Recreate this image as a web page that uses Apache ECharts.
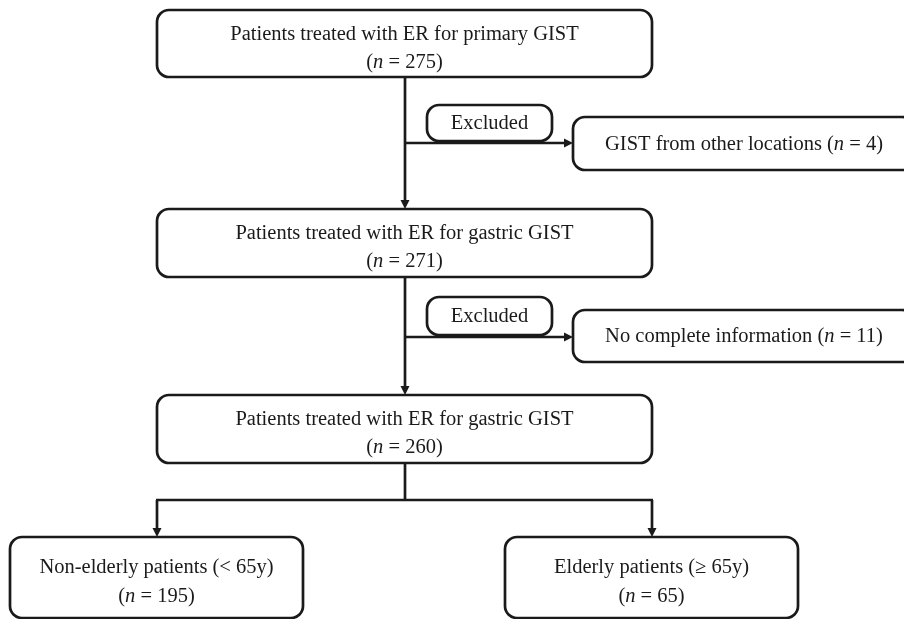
<!DOCTYPE html>
<html>
<head>
<meta charset="utf-8">
<script src="https://cdn.jsdelivr.net/npm/echarts@6/dist/echarts.min.js"></script>
<style>
html,body{margin:0;padding:0;background:#fff;}
#chart{width:904px;height:619px;}
</style>
</head>
<body>
<div id="chart"></div>
<script>
// ---- Data (content) ----
const stageTitles = ['Patients treated with ER for primary GIST', 'Patients treated with ER for gastric GIST', 'Patients treated with ER for gastric GIST'];
const stageCounts = [275, 271, 260];
const excludedLabel = 'Excluded';
const exclusionReasons = ['GIST from other locations', 'No complete information'];
const exclusionCounts = [4, 11];
const groupTitles = ['Non-elderly patients (< 65y)', 'Elderly patients (\u2265 65y)'];
const groupCounts = [195, 65];

// ---- Layout (positions in axis units, y downward) ----
const boxLayout = [
  { kind: 'stage', idx: 0, rect: [157, 10, 652, 77] },
  { kind: 'stage', idx: 1, rect: [157, 209, 652, 277] },
  { kind: 'stage', idx: 2, rect: [157, 395, 652, 463] },
  { kind: 'excl', idx: 0, rect: [427, 105, 552, 141] },
  { kind: 'reason', idx: 0, rect: [573, 117, 914, 170] },
  { kind: 'excl', idx: 1, rect: [427, 297, 552, 335] },
  { kind: 'reason', idx: 1, rect: [573, 310, 914, 362] },
  { kind: 'group', idx: 0, rect: [10, 537, 303, 618] },
  { kind: 'group', idx: 1, rect: [505, 537, 798, 618] }
];
const connectorLayout = [
  [405, 77, 405, 209, 1],
  [405, 277, 405, 395, 1],
  [405, 463, 405, 500, 0],
  [405, 143, 573, 143, 1],
  [405, 337, 573, 337, 1],
  [156, 500, 653, 500, 0],
  [157, 500, 157, 537, 1],
  [652, 500, 652, 537, 1]
];

const INK = '#1a1a1a';
const FONT = '"Liberation Serif", "DejaVu Serif", serif';
const FS = 20.5;

function textEl(str, x, y) {
  return {
    type: 'text',
    style: {
      text: str, x: x, y: y,
      fill: INK, fontFamily: FONT, fontSize: FS,
      align: 'center', verticalAlign: 'middle',
      rich: { i: { fontStyle: 'italic', fontFamily: FONT, fontSize: FS, fill: INK } }
    },
    z2: 10
  };
}
function nText(n) { return '({i|n} = ' + n + ')'; }

function boxLines(item) {
  if (item.kind === 'stage') return { lines: [stageTitles[item.idx], nText(stageCounts[item.idx])], offs: [25, 53] };
  if (item.kind === 'group') return { lines: [groupTitles[item.idx], nText(groupCounts[item.idx])], offs: [31, 60] };
  if (item.kind === 'excl') return { lines: [excludedLabel], offs: null };
  return { lines: [exclusionReasons[item.idx] + ' ({i|n} = ' + exclusionCounts[item.idx] + ')'], offs: null };
}

const boxData = boxLayout.map(b => ({ value: b.rect }));
const connData = connectorLayout.map(c => ({ value: c }));

const chart = echarts.init(document.getElementById('chart'), null, { renderer: 'canvas' });
chart.setOption({
  animation: false,
  backgroundColor: '#fff',
  grid: { left: 0, right: 0, top: 0, bottom: 0 },
  xAxis: { type: 'value', min: 0, max: 904, show: false },
  yAxis: { type: 'value', min: 0, max: 619, inverse: true, show: false },
  series: [
    {
      type: 'custom',
      clip: false,
      encode: { x: [0, 2], y: [1, 3] },
      data: connData,
      renderItem: function (params, api) {
        const p0 = api.coord([api.value(0), api.value(1)]);
        const p1 = api.coord([api.value(2), api.value(3)]);
        const arrow = api.value(4);
        const children = [];
        const dx = p1[0] - p0[0], dy = p1[1] - p0[1];
        const len = Math.sqrt(dx * dx + dy * dy) || 1;
        const ux = dx / len, uy = dy / len;
        const ah = 9, aw = 4.5;
        const endLine = arrow ? [p1[0] - ux * ah * 0.6, p1[1] - uy * ah * 0.6] : p1;
        children.push({
          type: 'line',
          shape: { x1: p0[0], y1: p0[1], x2: endLine[0], y2: endLine[1] },
          style: { stroke: INK, lineWidth: 2.7 }
        });
        if (arrow) {
          const bx = p1[0] - ux * ah, by = p1[1] - uy * ah;
          children.push({
            type: 'polygon',
            shape: { points: [[p1[0], p1[1]], [bx - uy * aw, by + ux * aw], [bx + uy * aw, by - ux * aw]] },
            style: { fill: INK }
          });
        }
        return { type: 'group', children: children };
      }
    },
    {
      type: 'custom',
      clip: false,
      encode: { x: [0, 2], y: [1, 3] },
      data: boxData,
      renderItem: function (params, api) {
        const item = boxLayout[params.dataIndex];
        const a = api.coord([api.value(0), api.value(1)]);
        const b = api.coord([api.value(2), api.value(3)]);
        const w = b[0] - a[0], h = b[1] - a[1];
        const cx = a[0] + w / 2;
        const children = [{
          type: 'rect',
          shape: { x: a[0], y: a[1], width: w, height: h, r: 12 },
          style: { fill: '#fff', stroke: INK, lineWidth: 2.7 },
          z2: 5
        }];
        const tl = boxLines(item);
        if (tl.offs) {
          tl.lines.forEach((s, i) => children.push(textEl(s, cx, a[1] + tl.offs[i])));
        } else {
          let tx = cx;
          if (item.kind === 'reason') tx = a[0] + 171;
          children.push(textEl(tl.lines[0], tx, a[1] + h / 2 + 1));
        }
        return { type: 'group', children: children };
      }
    }
  ]
});
</script>
</body>
</html>
